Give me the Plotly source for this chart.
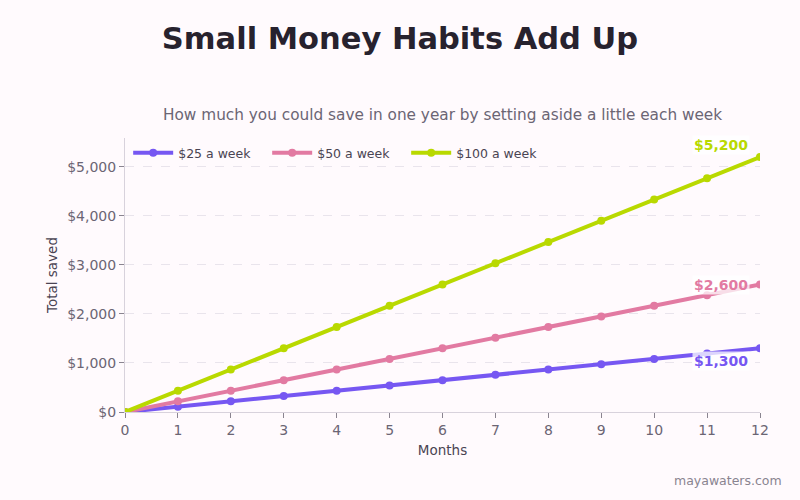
import plotly.graph_objects as go

months = [0, 1, 2, 3, 4, 5, 6, 7, 8, 9, 10, 11, 12]
save_25 = [0, 108, 217, 325, 433, 542, 650, 758, 867, 975, 1083, 1192, 1300]
save_50 = [0, 217, 433, 650, 867, 1083, 1300, 1517, 1733, 1950, 2167, 2383, 2600]
save_100 = [0, 433, 867, 1300, 1733, 2167, 2600, 3033, 3467, 3900, 4333, 4767, 5200]
names = ["$25 a week", "$50 a week", "$100 a week"]
colors = ["#7657f2", "#e27aa2", "#b9d900"]
end_labels = ["$1,300", "$2,600", "$5,200"]
y_ticks = [0, 1000, 2000, 3000, 4000, 5000]
y_tick_text = ["$0", "$1,000", "$2,000", "$3,000", "$4,000", "$5,000"]

font_family = "DejaVu Sans"
fig = go.Figure()
series = [save_25, save_50, save_100]
for name, vals, col in zip(names, series, colors):
    fig.add_trace(go.Scatter(
        x=months, y=vals, name=name, mode="lines+markers",
        line=dict(color=col, width=4),
        marker=dict(color=col, size=8),
        hovertemplate="%{y:$,.0f}<extra>" + name + "</extra>",
    ))

# end labels
yshifts = [-13, 0, 12]
for vals, col, lab, dy in zip(series, colors, end_labels, yshifts):
    fig.add_annotation(
        x=months[-1], y=vals[-1], text="<b>" + lab + "</b>",
        showarrow=False, xanchor="right", yanchor="middle",
        xshift=-10, yshift=dy,
        font=dict(color=col, size=14, family=font_family),
        bgcolor="rgba(255,255,255,0.75)",
    )

fig.add_annotation(
    x=1, y=0, xref="paper", yref="paper", xanchor="right", yanchor="bottom",
    text="mayawaters.com", showarrow=False,
    font=dict(size=12.5, color="#8a8490", family=font_family),
    xshift=24, yshift=-78,
)

fig.update_layout(
    width=800, height=500,
    paper_bgcolor="#fffafd", plot_bgcolor="#fffafd",
    font=dict(family=font_family, color="#6b6574", size=13),
    title=dict(
        text="<b>Small Money Habits Add Up</b>",
        x=0.5, xanchor="center", y=0.924, yanchor="middle",
        font=dict(size=30.5, color="#27222e", family=font_family),
    ),
    margin=dict(l=125, r=40, t=138, b=88),
    showlegend=True,
    legend=dict(
        orientation="h", x=0.005, y=1.0, xanchor="left", yanchor="top",
        bgcolor="rgba(0,0,0,0)", font=dict(size=12.5, color="#4a4452"),
        itemwidth=40, entrywidth=84, entrywidthmode="pixels",
    ),
    xaxis=dict(
        title=dict(text="Months", font=dict(size=13.5, color="#4a4452"), standoff=8),
        range=[0, 12], tickmode="array", tickvals=months,
        showgrid=False, zeroline=False,
        showline=True, linecolor="#d8d2dc", linewidth=1,
        ticks="outside", ticklen=5, tickcolor="#8a8490",
        tickfont=dict(size=14, color="#6b6574"),
    ),
    yaxis=dict(
        title=dict(text="Total saved", font=dict(size=13.5, color="#4a4452"), standoff=6),
        range=[0, 5590], tickmode="array", tickvals=y_ticks, ticktext=y_tick_text,
        showgrid=True, gridcolor="#e9e4ec", griddash="dash", gridwidth=1,
        zeroline=False,
        showline=True, linecolor="#d8d2dc", linewidth=1,
        ticks="outside", ticklen=5, tickcolor="#8a8490",
        tickfont=dict(size=14, color="#6b6574"),
    ),
)
fig.add_annotation(
    x=0.5, y=1, xref="paper", yref="paper", xanchor="center", yanchor="bottom",
    text="How much you could save in one year by setting aside a little each week",
    showarrow=False, yshift=12,
    font=dict(size=15.3, color="#6b6574", family=font_family),
)

fig.write_html("out.html")
